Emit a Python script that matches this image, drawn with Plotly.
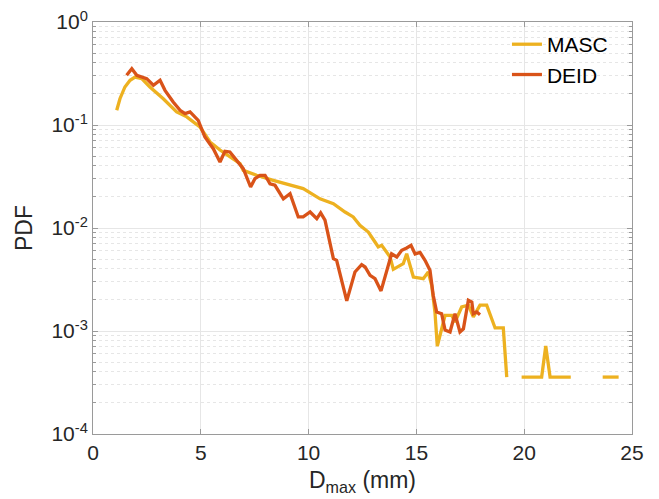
import plotly.graph_objects as go

# MASC
masc_x = [1.10, 1.25, 1.48, 1.72, 1.95, 2.26, 2.64, 3.26, 3.88, 4.35, 4.96, 5.43, 5.89, 6.82, 6.97,
          7.59, 8.36, 9.14, 9.75, 10.53, 11.15, 11.69, 12.07, 12.38, 12.77, 13.08, 13.23, 13.39, 13.62,
          13.78, 13.93, 14.39, 14.55, 14.86, 15.32, 15.55, 15.71, 15.86, 15.97, 16.17, 16.33, 16.64,
          16.79, 17.10, 17.41, 17.64, 17.95, 18.26, 18.65, 19.03, 19.19,
          19.5,
          19.88, 20.2, 20.5, 20.81, 21.0, 21.2, 21.6, 22.16,
          23.0,
          23.64, 24.0, 24.38]
masc_y = [0.139, 0.180, 0.234, 0.272, 0.292, 0.282, 0.234, 0.180, 0.134, 0.120, 0.0957, 0.0684, 0.0572,
          0.0421, 0.0363, 0.0325, 0.0290, 0.0260, 0.0241, 0.0192, 0.0172, 0.0143, 0.0128, 0.0106, 0.00914,
          0.00731, 0.00654, 0.00679, 0.00585, 0.00523, 0.00397, 0.00450, 0.00562, 0.00334, 0.00322,
          0.00374, 0.00278, 0.00153, 0.000714, 0.00107, 0.00142, 0.00142, 0.00122, 0.00171, 0.00178,
          0.00137, 0.00178, 0.00178, 0.00107, 0.00107, 0.000357,
          None,
          0.000357, 0.000357, 0.000357, 0.000357, 0.000714, 0.000357, 0.000357, 0.000357,
          None,
          0.000357, 0.000357, 0.000357]

# DEID
deid_x = [1.56, 1.80, 2.03, 2.49, 2.80, 3.11, 3.34, 3.72, 4.04, 4.27, 4.50, 4.88, 5.19, 5.58, 5.89,
          6.12, 6.35, 6.67, 6.97, 7.31, 7.51, 7.75, 7.98, 8.21, 8.44, 8.83, 9.14, 9.52, 9.75, 10.07,
          10.38, 10.56, 10.76, 11.15, 11.30, 11.77, 12.15, 12.46, 12.62, 12.85, 13.08, 13.36, 13.62,
          13.85, 14.09, 14.32, 14.55, 14.75, 14.94, 15.17, 15.40, 15.63, 15.78, 15.94, 16.17, 16.33,
          16.56, 16.79, 17.02, 17.18, 17.41, 17.57, 17.64, 17.80, 17.95]
deid_y = [0.304, 0.352, 0.304, 0.282, 0.243, 0.272, 0.217, 0.167, 0.139, 0.129, 0.134, 0.111, 0.0764,
          0.0589, 0.0437, 0.0556, 0.0547, 0.0454, 0.0377, 0.0250, 0.0301, 0.0325, 0.0325, 0.0269,
          0.0260, 0.0192, 0.0215, 0.0128, 0.0128, 0.0143, 0.0123, 0.0140, 0.0119, 0.00504, 0.00486,
          0.00196, 0.00374, 0.00440, 0.00418, 0.00347, 0.00322, 0.00245, 0.00388, 0.00562, 0.00523,
          0.00607, 0.00640, 0.00679, 0.00560, 0.00578, 0.00486, 0.00388, 0.00222, 0.00153, 0.00147,
          0.00102, 0.000977, 0.00147, 0.000977, 0.00105, 0.00199, 0.00191, 0.00147, 0.00153, 0.00144]

x_ticks = [0, 5, 10, 15, 20, 25]
y_ticks = [1e-4, 1e-3, 1e-2, 1e-1, 1]
y_ticktext = ["10<sup>-4</sup>", "10<sup>-3</sup>", "10<sup>-2</sup>", "10<sup>-1</sup>", "10<sup>0</sup>"]
y_minor = [m * 10.0 ** e for e in range(-4, 0) for m in range(2, 10)]

MASC_COLOR = "#EDB120"
DEID_COLOR = "#D95319"
FONT = "Liberation Sans, Arial, Helvetica, sans-serif"
TXT = "#262626"
AX = "#9a9a9a"

fig = go.Figure()
fig.add_trace(go.Scatter(x=masc_x, y=masc_y, mode="lines", name="MASC",
                         line=dict(color=MASC_COLOR, width=3.3), connectgaps=False))
fig.add_trace(go.Scatter(x=deid_x, y=deid_y, mode="lines", name="DEID",
                         line=dict(color=DEID_COLOR, width=3.3), connectgaps=False))

fig.update_layout(
    width=651, height=491,
    margin=dict(l=85, r=27, t=14, b=65),
    paper_bgcolor="white", plot_bgcolor="white",
    font=dict(family=FONT, size=21, color=TXT),
    showlegend=True,
    legend=dict(x=0.768, y=0.995, xanchor="left", yanchor="top",
                bgcolor="rgba(255,255,255,0)", borderwidth=0,
                font=dict(size=21, color="black"), itemwidth=30,
                tracegroupgap=0),
)
fig.update_xaxes(
    range=[0, 25], tickvals=x_ticks, ticktext=[str(v) for v in x_ticks],
    automargin=False, ticklabeloverflow="allow",
    showgrid=True, gridcolor="#e6e6e6", gridwidth=1,
    showline=True, linecolor=AX, linewidth=1, mirror="ticks",
    ticks="inside", ticklen=5, tickcolor=AX,
    zeroline=False,
    title=dict(text="D<sub>max</sub> (mm)", font=dict(size=23, color=TXT), standoff=8),
    tickfont=dict(size=21, color=TXT),
)
fig.update_yaxes(
    type="log", range=[-4, 0], tickvals=y_ticks, ticktext=y_ticktext,
    automargin=False, ticklabeloverflow="allow",
    showgrid=True, gridcolor="#e6e6e6", gridwidth=1,
    showline=True, linecolor=AX, linewidth=1, mirror="ticks",
    ticks="inside", ticklen=5, tickcolor=AX,
    zeroline=False,
    minor=dict(tickvals=y_minor, showgrid=True, griddash="dot", gridcolor="#e6e6e6",
               ticks="inside", ticklen=3, tickcolor=AX),
    title=dict(text="PDF", font=dict(size=23, color=TXT), standoff=12),
    tickfont=dict(size=21, color=TXT),
)

fig.write_html("out.html")
